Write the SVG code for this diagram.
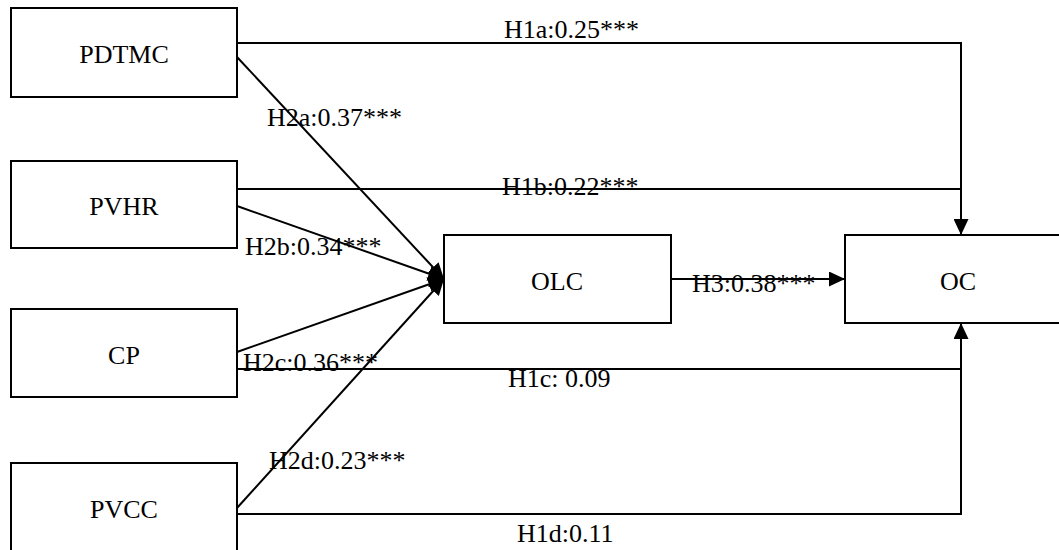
<svg xmlns="http://www.w3.org/2000/svg" width="1059" height="550" viewBox="0 0 1059 550">
<style>
.box{fill:#fff;stroke:#000;stroke-width:2}
.lbl{font-family:'Liberation Serif','Times New Roman','DejaVu Serif',serif;font-size:26px;fill:#000}
.c{text-anchor:middle}
.ln{fill:none;stroke:#000;stroke-width:2}
</style>
<defs>
<marker id="ah" viewBox="0 0 16 15" refX="16" refY="7.5" markerWidth="16" markerHeight="15" markerUnits="userSpaceOnUse" orient="auto">
<path d="M0,0 L16,7.5 L0,15 z" fill="#000"/>
</marker>
</defs>
<rect width="1059" height="550" fill="#fff"/>
<g id="connectors" font-family="Liberation Serif, serif">
<path class="ln" d="M237,43 H961 V235" marker-end="url(#ah)"/>
<path class="ln" d="M237,189 H961"/>
<path class="ln" d="M237,369 H961"/>
<path class="ln" d="M237,514 H961 V323" marker-end="url(#ah)"/>
<path class="ln" d="M237,57 L444,279" marker-end="url(#ah)"/>
<path class="ln" d="M237,206 L444,279" marker-end="url(#ah)"/>
<path class="ln" d="M237,352 L444,279" marker-end="url(#ah)"/>
<path class="ln" d="M237,508 L444,279" marker-end="url(#ah)"/>
<path class="ln" d="M671,279 H845" marker-end="url(#ah)"/>
<text class="lbl" x="504" y="38">H1a:0.25***</text>
<text class="lbl" x="267" y="126">H2a:0.37***</text>
<text class="lbl" x="502" y="195">H1b:0.22***</text>
<text class="lbl" x="245" y="255">H2b:0.34***</text>
<text class="lbl" x="692" y="292">H3:0.38***</text>
<text class="lbl" x="243" y="371">H2c:0.36***</text>
<text class="lbl" x="508" y="387">H1c: 0.09</text>
<text class="lbl" x="269" y="469">H2d:0.23***</text>
<text class="lbl" x="517" y="542">H1d:0.11</text>
</g>
<g id="PDTMC"><rect class="box" x="11" y="8" width="226" height="89"/><text class="lbl c" x="124" y="63">PDTMC</text></g>
<g id="PVHR"><rect class="box" x="11" y="161" width="226" height="87"/><text class="lbl c" x="124" y="215">PVHR</text></g>
<g id="CP"><rect class="box" x="11" y="309" width="226" height="88"/><text class="lbl c" x="124" y="364">CP</text></g>
<g id="PVCC"><rect class="box" x="11" y="463" width="226" height="90"/><text class="lbl c" x="124" y="518">PVCC</text></g>
<g id="OLC"><rect class="box" x="444" y="235" width="227" height="88"/><text class="lbl c" x="557" y="290">OLC</text></g>
<g id="OC"><rect class="box" x="845" y="235" width="227" height="88"/><text class="lbl c" x="958" y="290">OC</text></g>
</svg>
